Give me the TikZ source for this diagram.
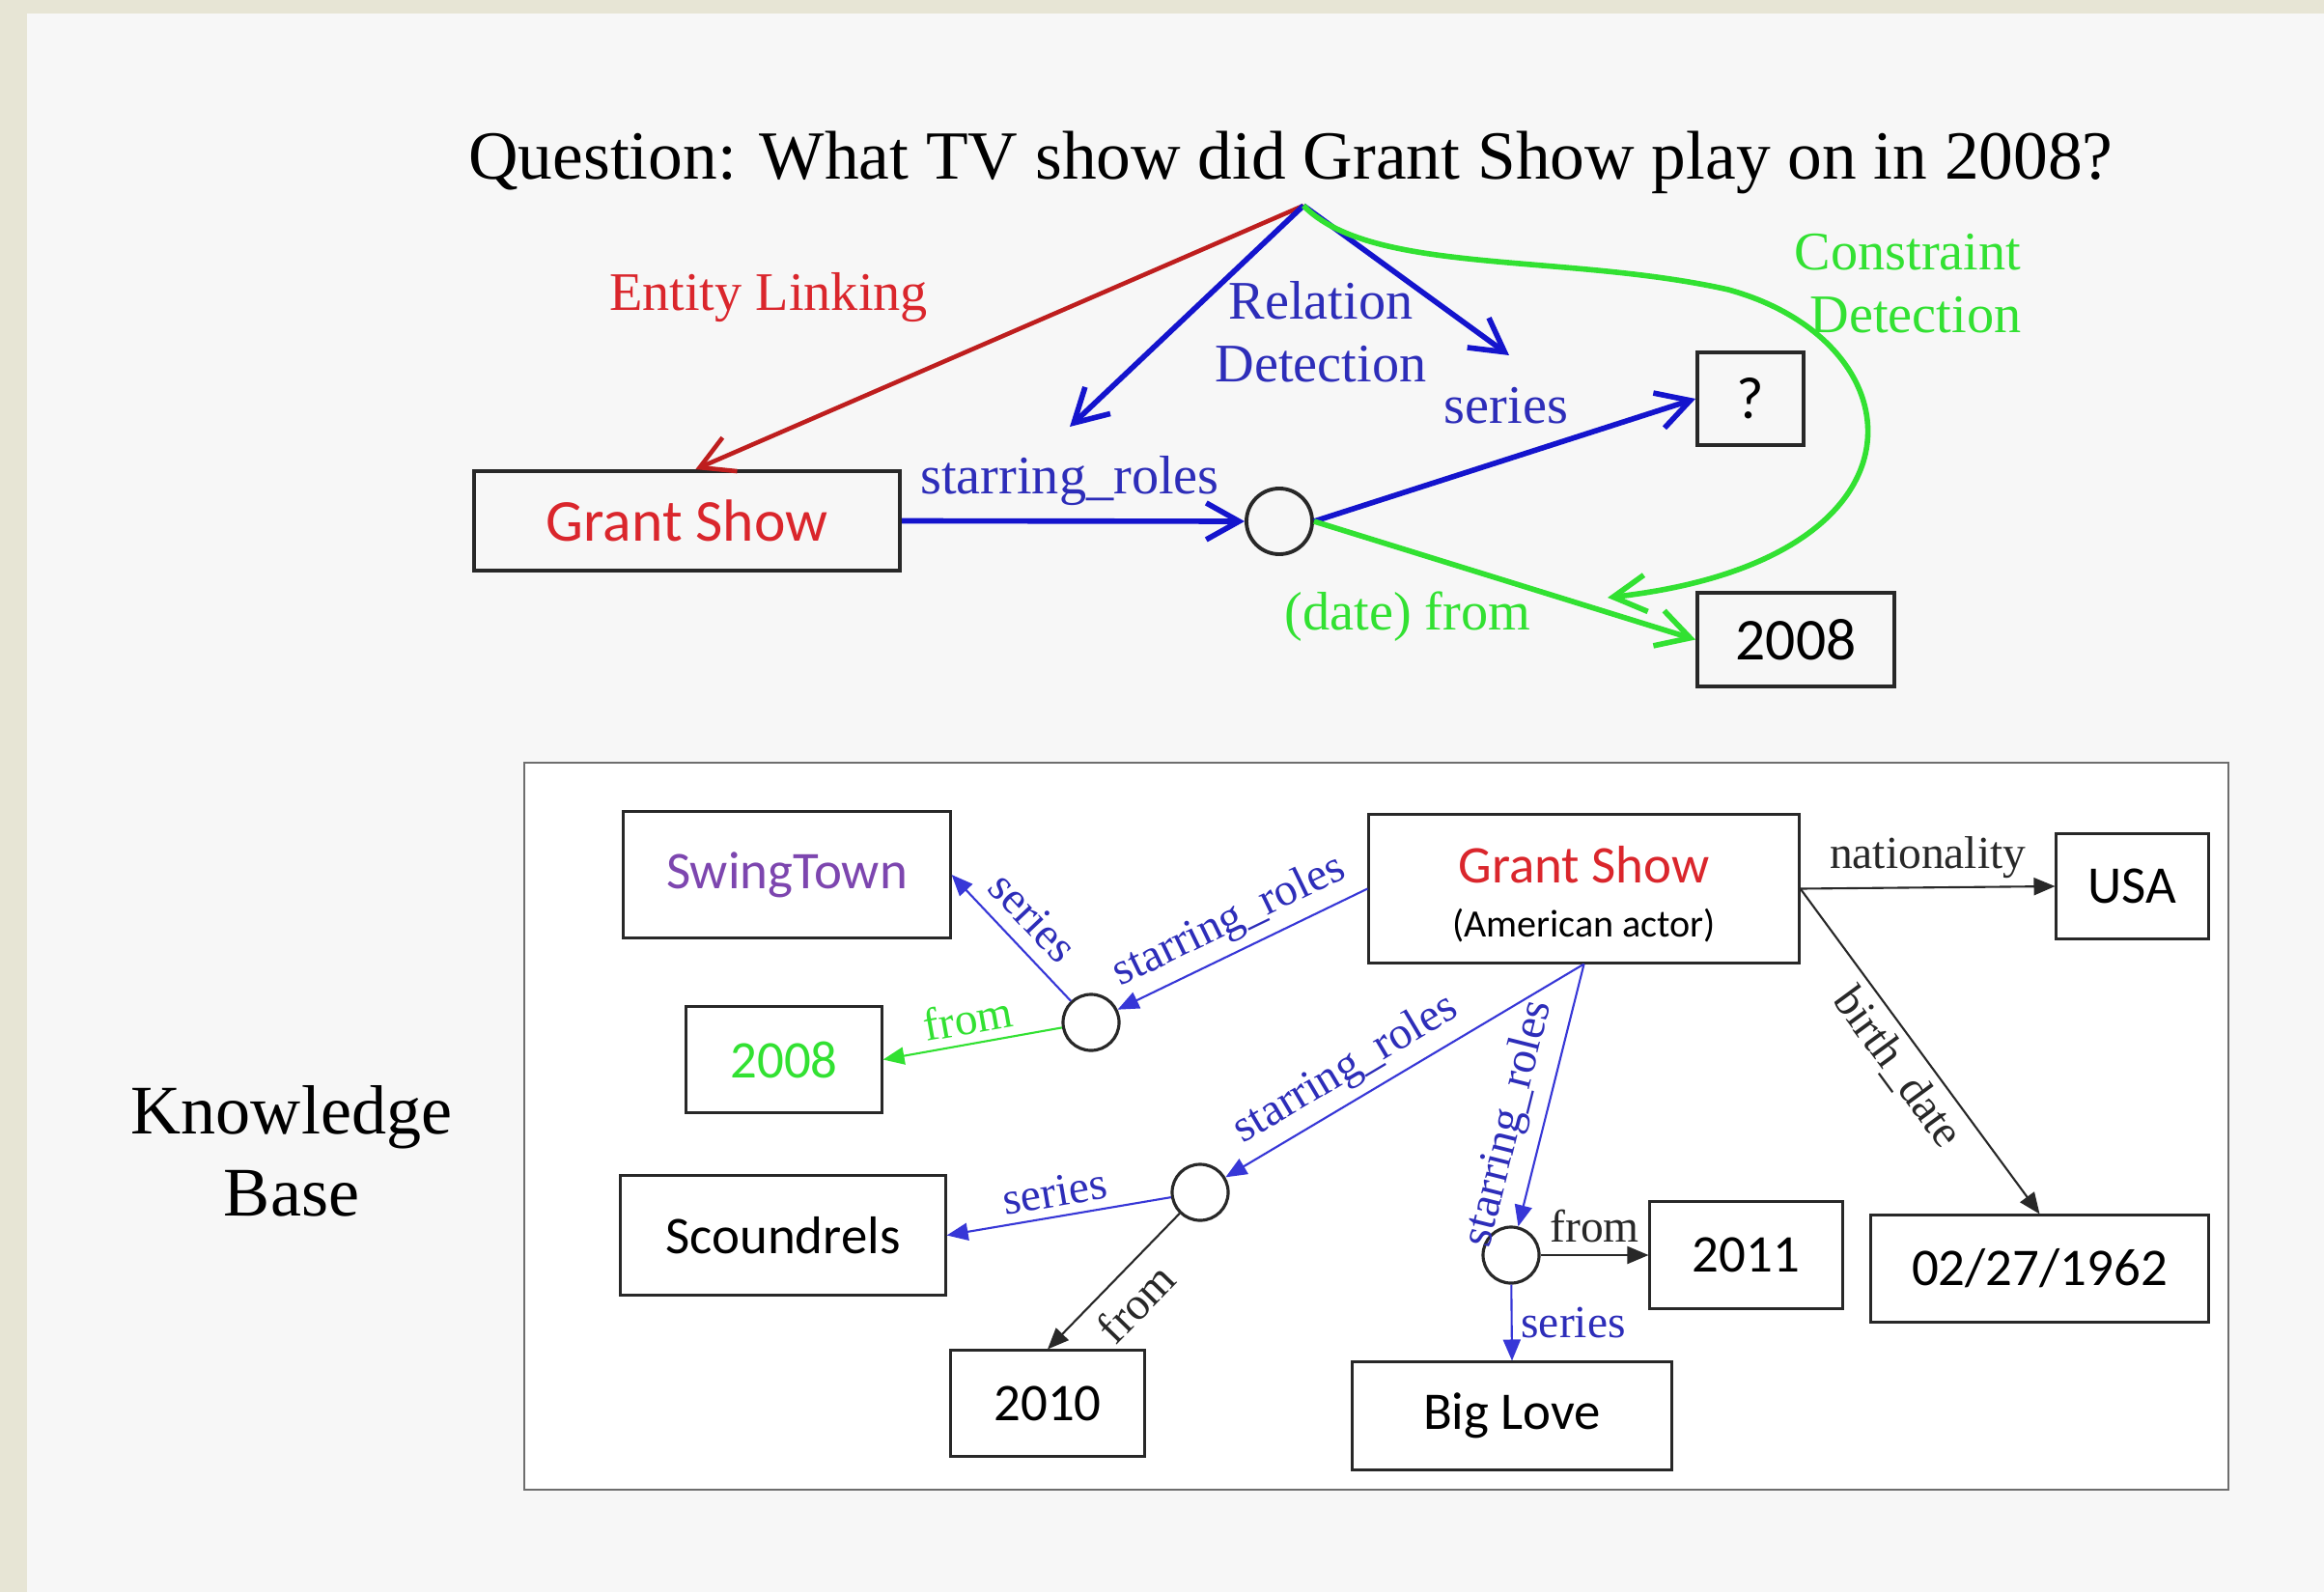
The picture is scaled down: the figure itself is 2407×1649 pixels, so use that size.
\documentclass[tikz,border=0pt]{standalone}
\usepackage{fontspec}
\setmainfont{Liberation Serif}
\newfontfamily\calfont{Carlito}
\usetikzlibrary{arrows.meta,calc}
\definecolor{bgouter}{RGB}{231,229,213}
\definecolor{bgpanel}{RGB}{247,247,247}
\definecolor{elred}{RGB}{190,30,30}
\definecolor{redtxt}{RGB}{218,38,44}
\definecolor{bluearr}{RGB}{20,20,205}
\definecolor{bluetxt}{RGB}{45,45,185}
\definecolor{grn}{RGB}{50,225,50}
\definecolor{purp}{RGB}{125,70,175}
\definecolor{kbblue}{RGB}{55,55,215}
\definecolor{boxline}{RGB}{40,40,40}
\definecolor{frameline}{RGB}{110,110,110}
\begin{document}
\begin{tikzpicture}[x=0.01cm, y=-0.01cm,
  topbox/.style={draw=boxline, line width=1.1pt, inner sep=0pt, font=\calfont\fontsize{17.5}{21}\selectfont},
  kbbox/.style={draw=boxline, line width=0.85pt, inner sep=0pt, font=\calfont\fontsize{15.6}{19}\selectfont},
  dot/.style={circle, draw=boxline, inner sep=0pt},
  toplab/.style={font=\fontsize{16}{18.5}\selectfont, inner sep=0pt},
  kblab/.style={font=\fontsize{13.5}{16}\selectfont, inner sep=2.5pt},
  thickarr/.style={line width=1.6pt, -{Straight Barb[length=3.4mm, width=3.8mm]}},
  thinarr/.style={line width=0.6pt, -{Triangle[length=2.2mm, width=1.8mm]}},
]
\fill[bgouter] (0,0) rectangle (2407,1649);
\fill[bgpanel] (28,14) rectangle (2407,1649);
\useasboundingbox (0,0) rectangle (2407,1649);

% ---------- top part ----------
\node[anchor=base, font=\fontsize{20.3}{24}\selectfont, inner sep=0pt] (question) at (1337,186)
  {Question: What TV show did Grant Show play on in 2008?};
\coordinate (apex) at (1350,213);

\node[topbox, minimum width=4.41cm, minimum height=1.03cm, text=redtxt] (gs) at (711.5,539.5) {Grant Show};
\node[topbox, minimum width=1.10cm, minimum height=0.96cm] (qbox) at (1813,413) {?};
\node[topbox, minimum width=2.04cm, minimum height=0.97cm] (y08) at (1860,662.5) {2008};
\node[dot, line width=1.1pt, minimum size=0.68cm] (c0) at (1325,540) {};

\coordinate (rdl) at (1108,442);
\coordinate (rdr) at (1563,368);
\coordinate (cdend) at (1665,619);

\draw[thickarr, elred, line width=1.3pt] (apex) -- ($(gs.north west)!0.52!(gs.north east)$);
\draw[thickarr, bluearr] (apex) -- (rdl);
\draw[thickarr, bluearr] (apex) -- (rdr);
\draw[thickarr, bluearr] (gs.east) -- (c0.west);
\draw[thickarr, bluearr] (c0.east) -- (qbox.west);
\draw[thickarr, grn] (c0.east) -- (y08.west);
\draw[thickarr, grn] (apex) .. controls (1420,285) and (1620,262) .. (1790,300)
   .. controls (1990,355) and (2010,580) .. (cdend);

\node[toplab, anchor=base, text=redtxt] (ellab) at (796,322) {Entity Linking};
\node[toplab, align=center, text=bluetxt] (rdlab) at (1368,344) {Relation\\Detection};
\node[toplab, align=right, anchor=east, text=grn] (cdlab) at (2094,294) {Constraint\\Detection};
\node[toplab, anchor=base, text=bluetxt] (serlab) at (1560,439) {series};
\node[toplab, anchor=base, text=bluetxt] (srlab) at (1108,511) {starring\_roles};
\node[toplab, anchor=base, text=grn] (dflab) at (1458,652) {(date) from};

% ---------- knowledge base ----------
\node[align=center, font=\fontsize{20.5}{24.2}\selectfont, inner sep=0pt] (kbtitle) at (302,1192) {Knowledge\\Base};
\draw[frameline, line width=0.6pt, fill=white] (543,790) rectangle (2308,1543);

\node[kbbox, minimum width=4.45cm, minimum height=1.53cm, align=center] (gskb) at (1640.5,920.5)
  {\rule{0pt}{14.2pt}\textcolor{redtxt}{Grant Show}\\[-3pt]{\fontsize{11.4}{14}\selectfont (American actor)}};
\node[kbbox, minimum width=3.38cm, minimum height=1.30cm, text=purp] (swing) at (815,906) {SwingTown};
\node[kbbox, minimum width=2.02cm, minimum height=1.09cm, text=grn] (y08kb) at (812,1097.5) {2008};
\node[kbbox, minimum width=3.36cm, minimum height=1.23cm] (scound) at (811,1279.5) {Scoundrels};
\node[kbbox, minimum width=2.00cm, minimum height=1.09cm] (y10) at (1085,1453.5) {2010};
\node[kbbox, minimum width=3.30cm, minimum height=1.11cm] (biglove) at (1566,1466.5) {Big Love};
\node[kbbox, minimum width=1.99cm, minimum height=1.10cm] (y11) at (1808.5,1300) {2011};
\node[kbbox, minimum width=3.49cm, minimum height=1.10cm] (dob) at (2112.5,1314) {02/27/1962};
\node[kbbox, minimum width=1.57cm, minimum height=1.08cm] (usa) at (2208.5,918) {USA};

\node[dot, line width=0.9pt, minimum size=0.58cm] (c1) at (1130,1059) {};
\node[dot, line width=0.9pt, minimum size=0.58cm] (c2) at (1243,1235) {};
\node[dot, line width=0.9pt, minimum size=0.58cm] (c3) at (1565,1300) {};

\draw[thinarr, kbblue] (gskb.west) -- node[kblab, sloped, above, text=bluetxt] {starring\_roles} (c1);
\draw[thinarr, kbblue] (c1) -- node[kblab, sloped, above, inner sep=4pt, text=bluetxt] {series} (swing.east);
\draw[thinarr, grn] (c1) -- node[kblab, sloped, above, text=grn] {from} (y08kb.east);
\draw[thinarr, kbblue] (gskb.south) -- node[kblab, sloped, above, pos=0.62, text=bluetxt] {starring\_roles} (c2);
\draw[thinarr, kbblue] (gskb.south) -- node[kblab, sloped, above, pos=0.64, inner sep=3.5pt, text=bluetxt] {starring\_roles} (c3);
\draw[thinarr, kbblue] (c2) -- node[kblab, sloped, above, text=bluetxt] {series} (scound.east);
\draw[thinarr, boxline] (c2) -- node[kblab, sloped, below, inner sep=4pt] {from} (y10.north);
\draw[thinarr, boxline] (c3) -- node[kblab, above, inner sep=3.5pt] {from} (y11.west);
\draw[thinarr, kbblue] (c3) -- node[kblab, right, text=bluetxt] {series} (biglove.north);
\draw[thinarr, boxline] (gskb.east) -- node[kblab, above] {nationality} (usa.west);
\draw[thinarr, boxline] (gskb.east) -- node[kblab, sloped, below] {birth\_date} (dob.north);
\end{tikzpicture}
\end{document}
